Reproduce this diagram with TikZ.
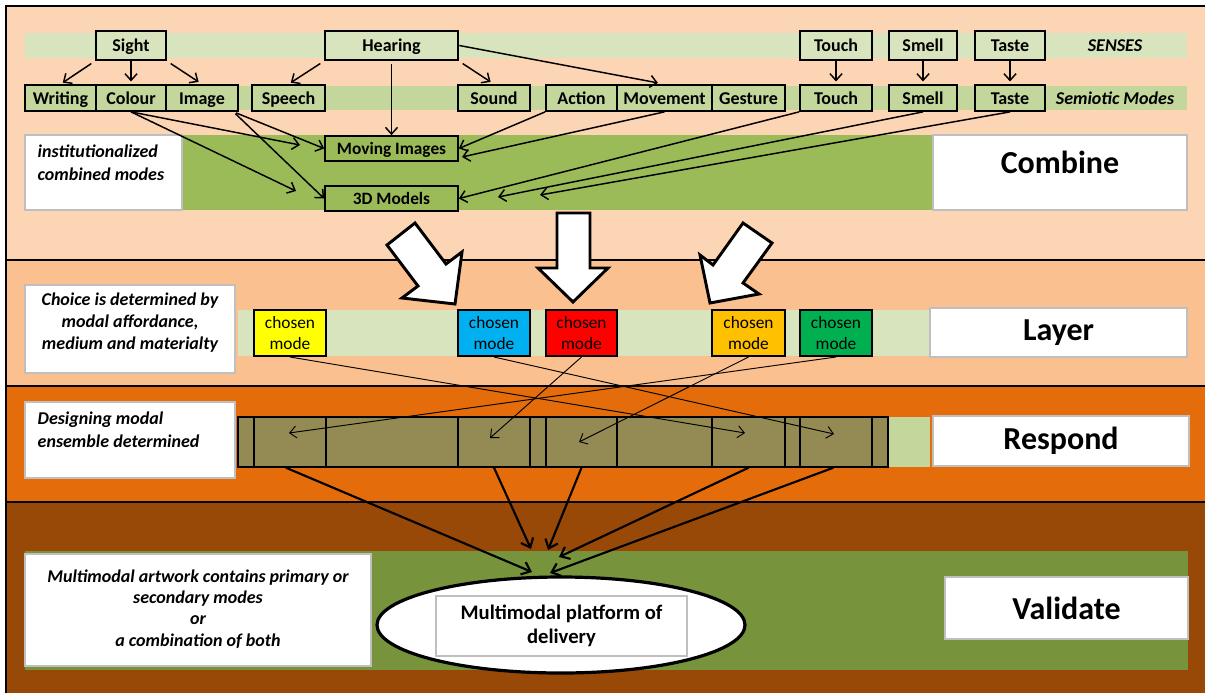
\documentclass[tikz,border=0pt]{standalone}
\usepackage{fontspec}
\setmainfont{Carlito}
\usetikzlibrary{arrows.meta,shapes.geometric}

\definecolor{bandA}{HTML}{FCD5B5}
\definecolor{bandB}{HTML}{FAC090}
\definecolor{bandC}{HTML}{E46C0A}
\definecolor{bandD}{HTML}{984807}
\definecolor{paleG}{HTML}{D7E4BD}
\definecolor{midG}{HTML}{C3D69B}
\definecolor{oliveG}{HTML}{9BBB59}
\definecolor{deepG}{HTML}{77933C}
\definecolor{khaki}{HTML}{948A54}
\definecolor{labelEdge}{HTML}{BFBFBF}
\definecolor{cYellow}{HTML}{FFFF00}
\definecolor{cBlue}{HTML}{00B0F0}
\definecolor{cRed}{HTML}{FF0000}
\definecolor{cOrange}{HTML}{FFC000}
\definecolor{cGreen}{HTML}{00B050}

\tikzset{
  % a rectangle node spanning the corners (x1,y1) and (x2,y2), in picture units
  span/.style n args={4}{minimum width={(#3-#1)*0.75pt}, minimum height={(#4-#2)*0.75pt},
    at={({(#1+#3)/2},{(#2+#4)/2})}},
  lbl/.style={font=\bfseries\fontsize{13.5}{16}\selectfont, text height=11pt, text depth=1.5pt},
  sense/.style={draw, line width=2pt, fill=paleG, inner sep=0pt, lbl},
  semio/.style={draw, line width=1.3pt, fill=midG, inner sep=0pt, lbl},
  combo/.style={draw, line width=1.3pt, fill=oliveG, inner sep=0pt, font=\bfseries\fontsize{13}{15}\selectfont, text height=10.5pt, text depth=1.5pt},
  note/.style={draw=labelEdge, line width=1pt, fill=white, inner sep=0pt},
  notetext/.style={font=\bfseries\itshape\fontsize{13.5}{17}\selectfont},
  stage/.style={note, font=\bfseries\fontsize{24}{28}\selectfont},
  stagetext/.style={font=\bfseries\fontsize{24}{28}\selectfont},
  chosen/.style={draw, line width=1.5pt, inner sep=0pt, align=center, font=\fontsize{13}{15.5}\selectfont},
  cell/.style={draw, line width=1.1pt, inner sep=0pt},
  arr/.style={-{Straight Barb[length=5pt,width=9pt]}, line width=1.1pt},
  thinarr/.style={-{Straight Barb[length=5pt,width=9pt]}, line width=0.7pt},
  heavyarr/.style={-{Straight Barb[length=6pt,width=10pt]}, line width=1.6pt},
  block/.style={fill=white, draw, line width=2.2pt, line join=miter},
}

\begin{document}
\begin{tikzpicture}[x=0.75pt, y=-0.75pt]
\useasboundingbox (0,0) rectangle (1205,693);

% stage bands
\fill[bandA] (6,6) rectangle (1205,260);
\fill[bandB] (6,260) rectangle (1205,386);
\fill[bandC] (6,386) rectangle (1205,502);
\fill[bandD] (6,502) rectangle (1205,693);
\draw[line width=1pt] (1205,6) -- (6,6) -- (6,693);
\foreach \yy in {260,386,502} \draw[line width=1pt] (6,\yy) -- (1205,\yy);

% ---------------- Combine ----------------
\fill[paleG] (25,33) rectangle (1187,58);
\fill[midG] (25,86) rectangle (1187,110);
\fill[oliveG] (25,135) rectangle (1187,210);

\node[sense, span={96}{31}{166}{60}] (sight) {Sight};
\node[sense, span={325}{31}{458}{60}] (hearing) {Hearing};
\node[sense, span={800}{31}{872}{60}] (touchS) {Touch};
\node[sense, span={889}{31}{957}{60}] (smellS) {Smell};
\node[sense, span={975}{31}{1045}{60}] (tasteS) {Taste};
\node[font=\bfseries\itshape\fontsize{13.5}{16}\selectfont] (senses) at (1115,46) {SENSES};

\node[semio, span={25}{85}{96}{111}] (writing) {Writing};
\node[semio, span={96}{85}{166}{111}] (colour) {Colour};
\node[semio, span={166}{85}{238}{111}] (image) {Image};
\node[semio, span={252}{85}{325}{111}] (speech) {Speech};
\node[semio, span={458}{85}{530}{111}] (sound) {Sound};
\node[semio, span={546}{85}{617}{111}] (action) {Action};
\node[semio, span={617}{85}{712}{111}] (movement) {Movement};
\node[semio, span={712}{85}{785}{111}] (gesture) {Gesture};
\node[semio, span={800}{85}{872}{111}] (touchM) {Touch};
\node[semio, span={889}{85}{957}{111}] (smellM) {Smell};
\node[semio, span={975}{85}{1045}{111}] (tasteM) {Taste};
\node[font=\bfseries\itshape\fontsize{13.5}{16}\selectfont] (semiotic) at (1115,98) {Semiotic Modes};

\node[note, span={25}{135}{182}{210}] (instBox) {};
\node[notetext, anchor=north west, align=left] (instText) at (33,140) {institutionalized\\combined modes};
\node[note, span={933}{135}{1187}{210}] (combine) {};
\node[stagetext] (combineText) at (1060,162) {Combine};

\node[combo, span={325}{136}{458}{161}] (moving) {Moving Images};
\node[combo, span={325}{186}{458}{211}] (models) {3D Models};

% senses to modes
\draw[arr, shorten <=3pt, shorten >=2pt] (sight.south west) -- (writing.north);
\draw[arr, shorten >=2pt] (sight.south) -- (colour.north);
\draw[arr, shorten <=3pt, shorten >=3pt] (sight.south east) -- (image.north);
\draw[arr, shorten <=3pt, shorten >=2pt] (hearing.south west) -- (speech.north);
\draw[arr, shorten <=3pt, shorten >=3pt] (hearing.south east) -- (sound.north);
\draw[arr, shorten <=2pt] (hearing.south) -- (moving.north);
\draw[arr, shorten >=5pt] (hearing.east) -- (movement.north);
\draw[arr, shorten >=2pt] (touchS.south) -- (touchM.north);
\draw[arr, shorten >=2pt] (smellS.south) -- (smellM.north);
\draw[arr, shorten >=2pt] (tasteS.south) -- (tasteM.north);

% modes into institutionalized combinations
\coordinate (colourToMoving) at (300,145);
\coordinate (colourToModels) at (296,191);
\coordinate (movementEnd) at (462,157);
\coordinate (smellEnd) at (498,197);
\coordinate (tasteEnd) at (540,195);
\draw[arr] (colour.south) -- (colourToMoving);
\draw[arr] (colour.south) -- (colourToModels);
\draw[arr, shorten <=2pt] ([xshift=-4]image.south east) -- (moving.west);
\draw[arr, shorten <=2pt] ([xshift=-4]image.south east) -- (models.west);
\draw[arr] (action.south west) -- (moving.east);
\draw[arr] (movement.south) -- (movementEnd);
\draw[arr] (touchM.south west) -- (models.east);
\draw[arr] (smellM.south) -- (smellEnd);
\draw[arr] (tasteM.south) -- (tasteEnd);

% block arrows down into the layer stage
\draw[block] (415,223) -- (446,264) -- (462,252) -- (455,304) -- (402,298) -- (418,286) -- (387,245) -- cycle;
\draw[block] (557,213) -- (590,213) -- (590,268) -- (608,268) -- (573,302) -- (538,268) -- (557,268) -- cycle;
\draw[block] (743,223) -- (713,265) -- (700,255) -- (710,303) -- (759,294) -- (743,283) -- (772,243) -- cycle;

% ---------------- Layer ----------------
\fill[paleG] (238,310) rectangle (930,356);
\node[note, span={25}{285}{235}{373}] (choiceBox) {};
\node[notetext, align=center, font=\bfseries\itshape\fontsize{13.5}{16.5}\selectfont] (choiceText) at (130,323) {Choice is determined by\\modal affordance,\\medium and materialty};
\node[stage, span={930}{308}{1187}{357}] (layer) {Layer};

\node[chosen, fill=cYellow, span={254}{310}{326}{356}] (mYellow) {chosen\\mode};
\node[chosen, fill=cBlue, span={458}{310}{530}{356}] (mBlue) {chosen\\mode};
\node[chosen, fill=cRed, span={546}{310}{617}{356}] (mRed) {chosen\\mode};
\node[chosen, fill=cOrange, span={712}{310}{785}{356}] (mOrange) {chosen\\mode};
\node[chosen, fill=cGreen, span={800}{310}{872}{356}] (mGreen) {chosen\\mode};

% ---------------- Respond ----------------
\fill[midG] (888,417) rectangle (930,467);
\fill[khaki] (238,417) rectangle (888,467);
\node[cell, span={238}{417}{254}{467}] (c1) {};
\node[cell, span={254}{417}{326}{467}] (cYel) {};
\node[cell, span={326}{417}{458}{467}] (c3) {};
\node[cell, span={458}{417}{530}{467}] (cBlu) {};
\node[cell, span={530}{417}{546}{467}] (c5) {};
\node[cell, span={546}{417}{617}{467}] (cRd) {};
\node[cell, span={617}{417}{712}{467}] (c7) {};
\node[cell, span={712}{417}{785}{467}] (cOra) {};
\node[cell, span={785}{417}{800}{467}] (c9) {};
\node[cell, span={800}{417}{872}{467}] (cGrn) {};
\node[cell, span={872}{417}{888}{467}] (c11) {};

\node[note, span={25}{402}{235}{478}] (designBox) {};
\node[notetext, anchor=north west, align=left] (designText) at (33,407) {Designing modal\\ensemble determined};
\node[stage, span={933}{416}{1189}{466}] (respond) {Respond};

% chosen modes placed into the ensemble
\coordinate (yelSlot) at (745,433);
\coordinate (bluSlot) at (834,434);
\coordinate (redSlot) at (490,438);
\coordinate (oraSlot) at (579,442);
\coordinate (grnSlot) at (289,433);
\draw[thinarr] (mYellow.south) -- (yelSlot);
\draw[thinarr] (mBlue.south) -- (bluSlot);
\draw[thinarr] (mRed.south) -- (redSlot);
\draw[thinarr] (mOrange.south) -- (oraSlot);
\draw[thinarr] (mGreen.south) -- (grnSlot);

% ---------------- Validate ----------------
\fill[deepG] (25,551) rectangle (1188,670);
\node[note, span={25}{554}{371}{666}] (artBox) {};
\node[notetext, align=center, font=\bfseries\itshape\fontsize{13.5}{16}\selectfont] (artText) at (198,609) {Multimodal artwork contains primary or\\secondary modes\\or\\a combination of both};
\node[stage, span={945}{577}{1188}{639}] (validate) {Validate};

\node[ellipse, draw, line width=2.4pt, fill=white, minimum width=276pt, minimum height=72pt, inner sep=0pt] (platform) at (561,625) {};
\node[note, span={436}{596}{687}{656}, align=center, font=\bfseries\fontsize{15.5}{17.5}\selectfont] (platformText) {Multimodal platform of\\delivery};

% ensemble delivered to the platform
\coordinate (endA) at (532,572);
\coordinate (endB) at (531,549);
\coordinate (endC) at (548,550);
\coordinate (endD) at (559,557);
\coordinate (endE) at (550,573);
\draw[heavyarr] ([xshift=-3]cYel.south) -- (endA);
\draw[heavyarr] (cBlu.south) -- (endB);
\draw[heavyarr] (cRd.south) -- (endC);
\draw[heavyarr] (cOra.south) -- (endD);
\draw[heavyarr] ([xshift=-2]cGrn.south) -- (endE);
\end{tikzpicture}
\end{document}
